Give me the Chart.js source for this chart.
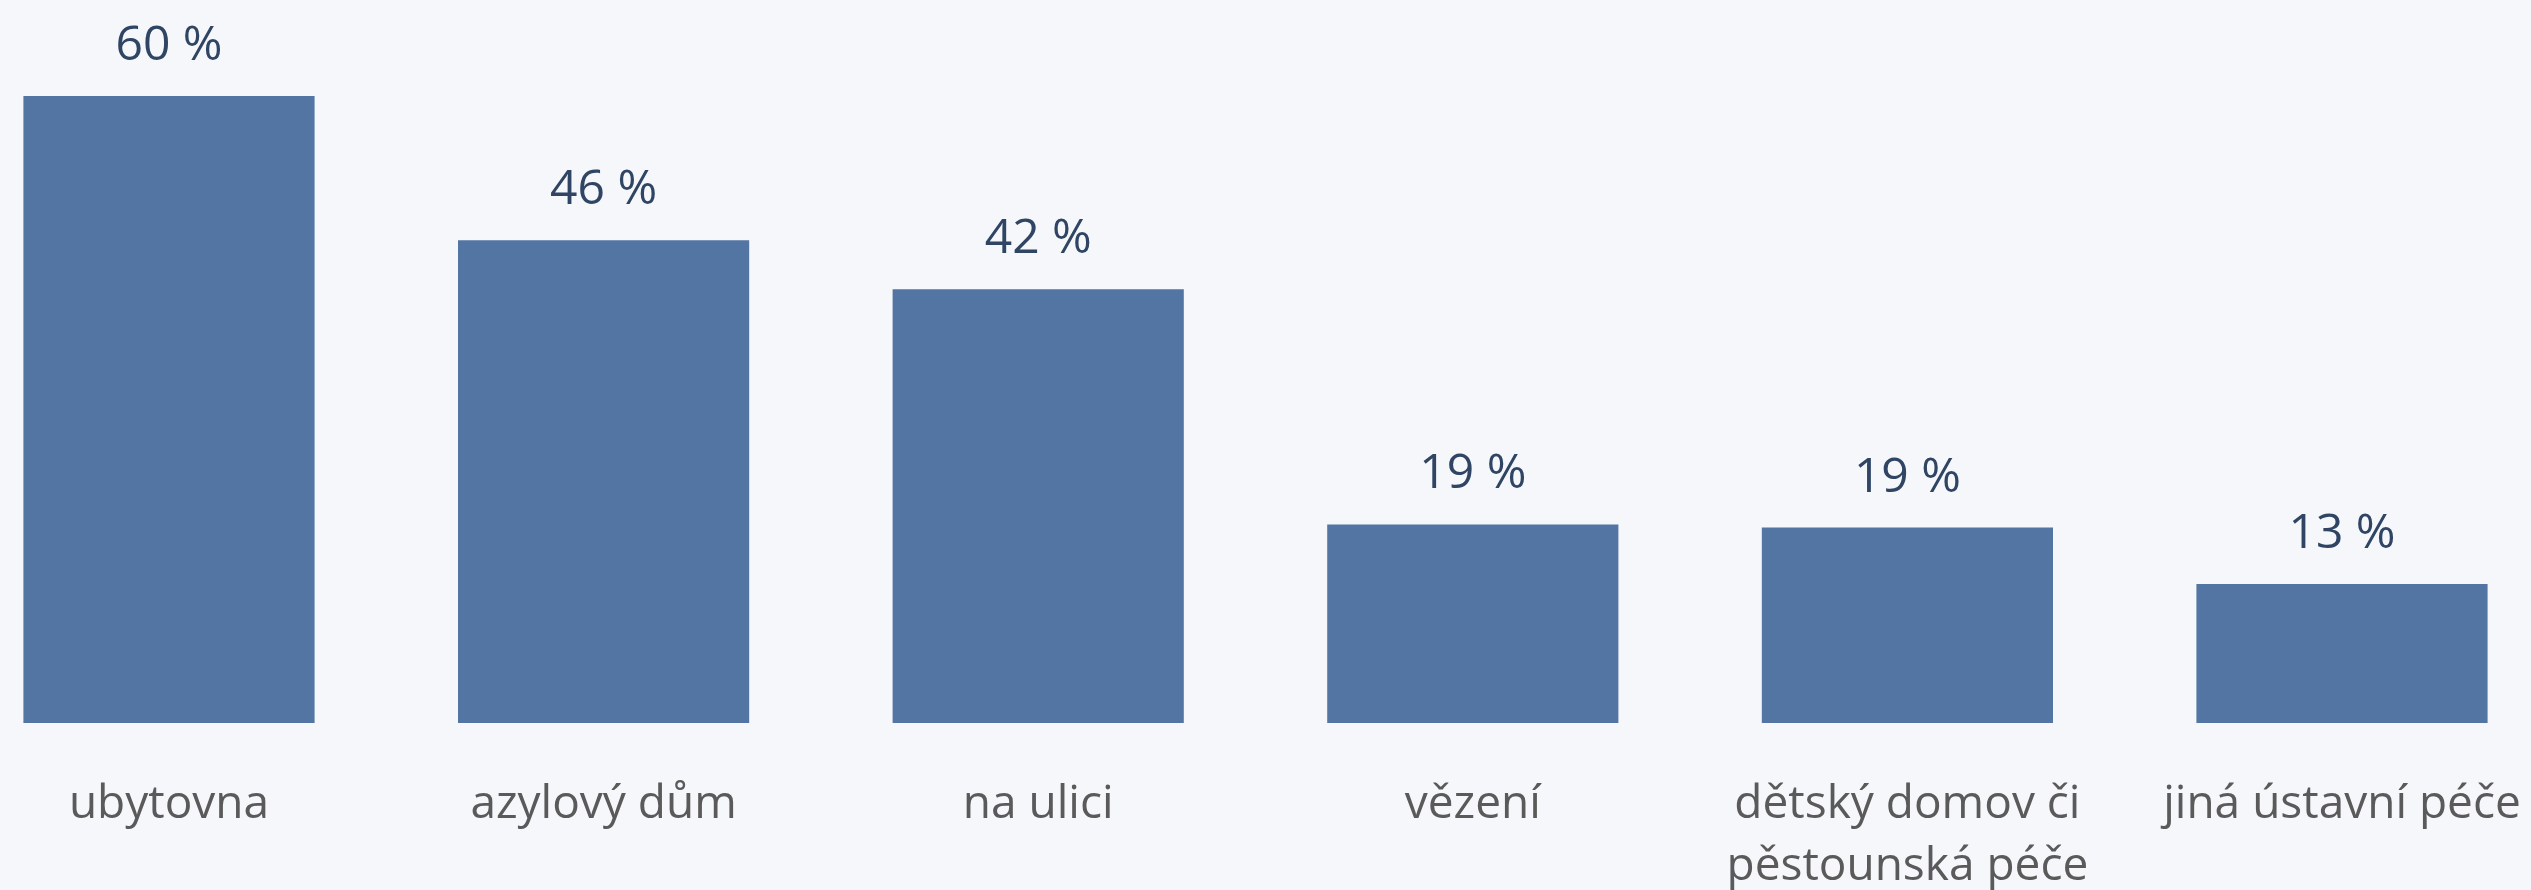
<!DOCTYPE html>
<html>
<head>
<meta charset="utf-8">
<script src="https://cdn.jsdelivr.net/npm/chart.js@4"></script>
<style>
    html, body { margin: 0; padding: 0; background: #f5f7fb; }
    #wrap { width: 2531px; height: 890px; }
</style>
</head>
<body>
<div id="wrap"><canvas id="placesChart" width="2531" height="890"></canvas></div>
<script>
const categories = [
    "ubytovna",
    "azylový dům",
    "na ulici",
    "vězení",
    ["dětský domov či", "pěstounská péče"],
    "jiná ústavní péče"
]
// share of respondents
const shares = [60, 46.2, 41.5, 19.0, 18.7, 13.3]
const shareLabels = ["60 %", "46 %", "42 %", "19 %", "19 %", "13 %"]

// draws "xx %" above each bar
const valueLabels = {
    id: "valueLabels",
    afterDatasetsDraw(chart) {
        const ctx = chart.ctx
        const bars = chart.getDatasetMeta(0).data
        ctx.save()
        ctx.font = "48px 'Open Sans'"
        ctx.fillStyle = "#2f4563"
        ctx.textAlign = "center"
        ctx.textBaseline = "alphabetic"
        bars.forEach((bar, i) => {
            ctx.fillText(shareLabels[i], bar.x, bar.y - 36)
        })
        ctx.restore()
    }
}

const data = {
    labels: categories,
    datasets: [{
        data: shares,
        backgroundColor: "#5275a3",
        borderWidth: 0,
        categoryPercentage: 1,
        barPercentage: 0.67,
        clip: false
    }]
}

const config = {
    type: "bar",
    data: data,
    options: {
        responsive: false,
        animation: false,
        layout: {
            padding: { left: 169, right: 189, top: 96, bottom: 0 }
        },
        scales: {
            x: {
                offset: false,
                grid: { display: false, drawTicks: false },
                border: { display: false },
                ticks: {
                    color: "#5a5a5a",
                    font: { family: "'Open Sans'", size: 46, lineHeight: 1.35 },
                    padding: 51,
                    maxRotation: 0,
                    autoSkip: false
                },
                afterFit: (scale) => {
                    scale.height = 167
                    // labels may hang past the plot edges
                    scale.paddingLeft = 0
                    scale.paddingRight = 0
                }
            },
            y: {
                display: false,
                min: 0,
                max: 60
            }
        },
        plugins: {
            legend: { display: false },
            tooltip: { enabled: false }
        }
    },
    plugins: [valueLabels]
}

const placesChart = new Chart(
    document.getElementById("placesChart"), config
)
</script>
</body>
</html>
